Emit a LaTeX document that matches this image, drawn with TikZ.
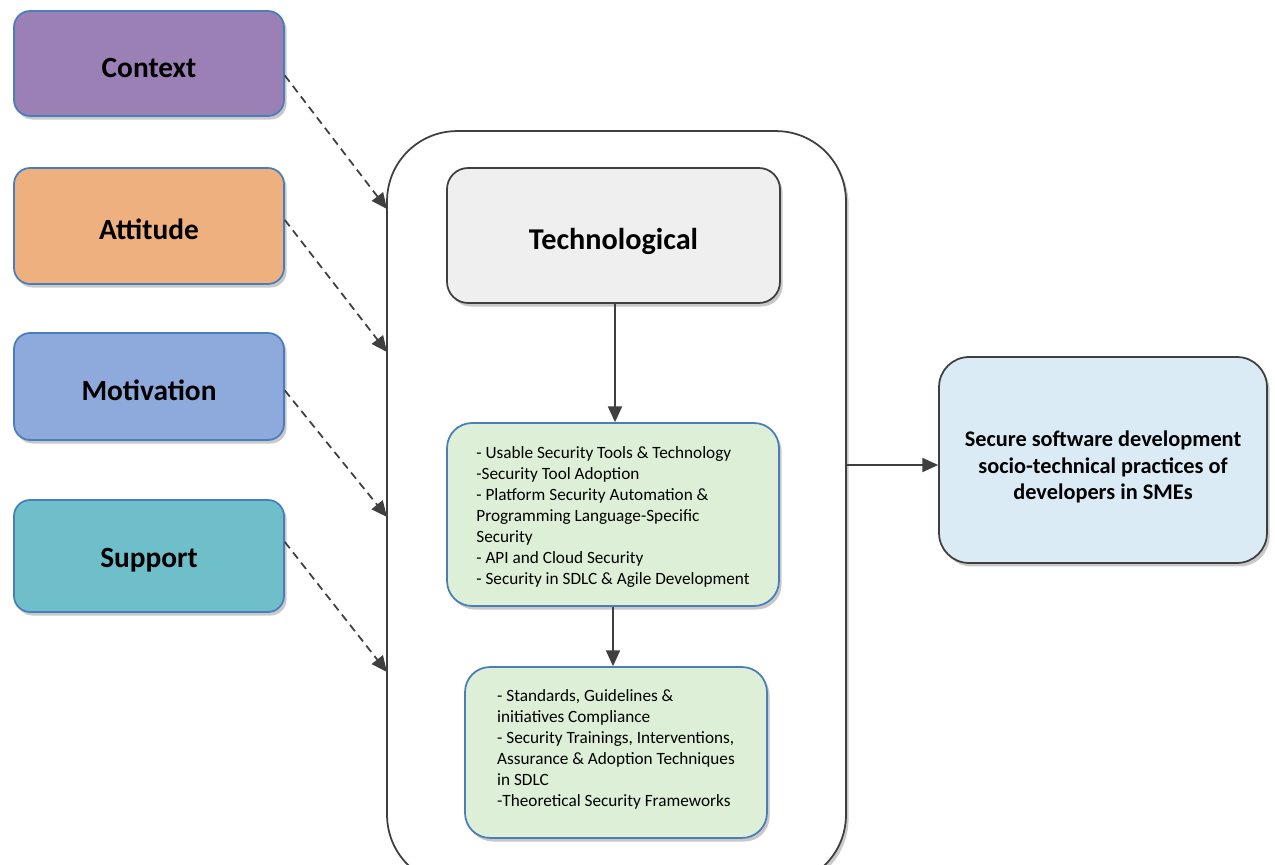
\documentclass[tikz,border=0pt]{standalone}
\usepackage{fontspec}
\setmainfont{Carlito}
\usetikzlibrary{arrows.meta,shadows}
\definecolor{ctxfill}{HTML}{9A80B5}
\definecolor{attfill}{HTML}{EFB07F}
\definecolor{motfill}{HTML}{8EA9DC}
\definecolor{supfill}{HTML}{6FBFCB}
\definecolor{bluebd}{HTML}{4A7EBB}
\definecolor{darkln}{HTML}{3F3F3F}
\definecolor{techfill}{HTML}{EFEFEF}
\definecolor{greenfill}{HTML}{DDEFD6}
\definecolor{outfill}{HTML}{DAEBF5}
\newcommand\lowr[2]{\raisebox{-#1}[\height][\depth]{#2}}
\begin{document}
\begin{tikzpicture}[x=0.02cm,y=-0.02cm,
  shad/.style={drop shadow={shadow xshift=1.5pt,shadow yshift=-2pt,opacity=0.3,fill=black!70}},
  factor/.style={draw=bluebd,line width=1pt,rounded corners=0.32cm,minimum width=5.4cm,
    font=\fontsize{16.7}{20}\selectfont\bfseries,shad},
  container/.style={draw=darkln,line width=1pt,rounded corners=1.4cm,fill=white,
    minimum width=9.18cm,minimum height=15.08cm,shad},
  techbox/.style={draw=darkln,line width=1pt,fill=techfill,rounded corners=0.42cm,
    minimum width=6.66cm,minimum height=2.7cm,font=\fontsize{17.2}{20}\selectfont\bfseries,shad},
  greenbox/.style={draw=bluebd,line width=1pt,fill=greenfill,rounded corners=0.5cm,
    align=left,font=\fontsize{9.8}{12}\selectfont,shad},
  outbox/.style={draw=darkln,line width=1pt,fill=outfill,rounded corners=0.6cm,
    minimum width=6.56cm,minimum height=4.12cm,align=center,
    font=\fontsize{12.7}{15}\selectfont\bfseries,shad},
  arr/.style={draw=darkln,line width=1pt,-{Triangle[length=9pt,width=8pt]}},
  dasharr/.style={arr,dash pattern=on 4.5pt off 3pt}
]
\useasboundingbox (0,0) rectangle (1275,865);
\clip (0,0) rectangle (1275,865);

\node[factor,fill=ctxfill,minimum height=2.1cm] (ctx) at (149,63.5) {\lowr{0.09cm}{Context}};
\node[factor,fill=attfill,minimum height=2.32cm] (att) at (149,226) {\lowr{0.06cm}{Attitude}};
\node[factor,fill=motfill,minimum height=2.14cm] (mot) at (149,386.5) {\lowr{0.08cm}{Motivation}};
\node[factor,fill=supfill,minimum height=2.24cm] (sup) at (149,556) {\lowr{0.08cm}{Support}};

\node[container] (cont) at (616.5,508) {};

\node[techbox] (tech) at (613.5,235.5) {\lowr{0.12cm}{Technological}};

\node[greenbox,minimum width=6.64cm,minimum height=3.66cm] (g1) at (613,514.5) {%
\lowr{0.06cm}{\begin{tabular}{@{}l@{}}
- Usable Security Tools \& Technology\\
-Security Tool Adoption\\
- Platform Security Automation \&\\
Programming Language-Specific\\
Security\\
- API and Cloud Security\\
- Security in SDLC \& Agile Development\end{tabular}}};

\node[greenbox,minimum width=6.04cm,minimum height=3.42cm] (g2) at (616,752.5) {%
\raisebox{0.06cm}[\height][\depth]{\begin{tabular}{@{}l@{}}
- Standards, Guidelines \&\\
initiatives Compliance\\
- Security Trainings, Interventions,\\
Assurance \& Adoption Techniques\\
in SDLC\\
-Theoretical Security Frameworks\end{tabular}}};

\node[outbox] (out) at (1103,460) {\lowr{0.16cm}{\begin{tabular}{@{}c@{}}Secure software development\\socio-technical practices of\\developers in SMEs\end{tabular}}};

\coordinate (e1) at (387,209);
\coordinate (e2) at (387,352);
\coordinate (e3) at (387,517);
\coordinate (e4) at (387,672);
\coordinate (t1) at ([xshift=0.03cm]tech.south);
\coordinate (o1) at ([yshift=-0.1cm]out.west);

\draw[dasharr] ([yshift=-0.24cm]ctx.east) -- (e1);
\draw[dasharr] ([yshift=0.12cm]att.east) -- (e2);
\draw[dasharr] ([yshift=-0.08cm]mot.east) -- (e3);
\draw[dasharr] ([yshift=0.28cm]sup.east) -- (e4);

\draw[arr] (t1) -- (t1 |- g1.north);
\draw[arr] (g1.south) -- (g1.south |- g2.north);
\draw[arr] (cont.east |- o1) -- (o1);
\end{tikzpicture}
\end{document}
